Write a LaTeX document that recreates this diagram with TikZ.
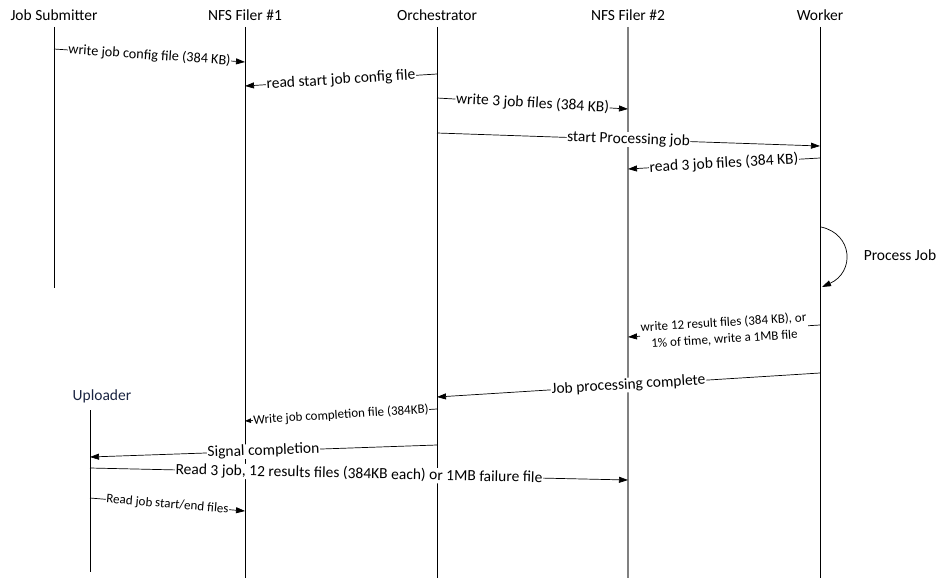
\documentclass[tikz,border=0pt]{standalone}
\usepackage{fontspec}
\setmainfont{Carlito}
\usetikzlibrary{arrows.meta}
\definecolor{navytext}{RGB}{25,35,65}
\begin{document}
\begin{tikzpicture}[x=1pt,y=-1pt,
  life/.style={line width=0.8pt,black},
  lifegray/.style={line width=1.5pt,black!50},
  title/.style={font=\fontsize{15.5}{18}\selectfont,inner sep=0pt},
  msg/.style={line width=0.7pt,-{Triangle[length=9pt,width=6pt]}},
  msgsmall/.style={line width=0.7pt,-{Triangle[length=6pt,width=4.5pt]}},
  lbl/.style={midway,sloped,fill=white,inner sep=0.6pt,font=\fontsize{15.5}{18}\selectfont},
  lblmid/.style={lbl,font=\fontsize{14.2}{17}\selectfont},
  lblsmall/.style={lbl,font=\fontsize{13}{16.5}\selectfont}]
\useasboundingbox (0,0) rectangle (947,578);

% titles
\node[title] (tjs) at (54,15) {Job Submitter};
\node[title] (tn1) at (245,15) {NFS Filer \#1};
\node[title] (tor) at (437,15) {Orchestrator};
\node[title] (tn2) at (628,15) {NFS Filer \#2};
\node[title] (twk) at (820,15) {Worker};
\node[title,text=navytext] (tup) at (102,396) {Uploader};
\node[title] (tpj) at (900,255) {Process Job};

% lifelines
\coordinate (js0) at (54,27);  \coordinate (js1) at (54,288);
\coordinate (n10) at (245,27); \coordinate (n11) at (245,578);
\coordinate (or0) at (437,27); \coordinate (or1) at (437,578);
\coordinate (n20) at (628,27); \coordinate (n21) at (628,578);
\coordinate (wk0) at (820,27); \coordinate (wk1) at (820,578);
\coordinate (up0) at (90,410); \coordinate (up1) at (90,572);
\draw[life] (js0) -- (js1);
\draw[life] (n10) -- (n11);
\draw[life] (or0) -- (or1);
\draw[lifegray] (n20) -- (n21);
\draw[life] (wk0) -- (wk1);
\draw[life] (up0) -- (up1);

% message end points
\coordinate (m1a) at (54,49);   \coordinate (m1b) at (245,62);
\coordinate (m2a) at (437,74);  \coordinate (m2b) at (245,86);
\coordinate (m3a) at (437,98);  \coordinate (m3b) at (628,109);
\coordinate (m4a) at (437,133); \coordinate (m4b) at (820,146);
\coordinate (m5a) at (820,158); \coordinate (m5b) at (628,169);
\coordinate (p1) at (821,227);  \coordinate (p2) at (822,287);
\coordinate (m7a) at (820,325); \coordinate (m7b) at (628,337);
\coordinate (m8a) at (820,373); \coordinate (m8b) at (437,397);
\coordinate (m9a) at (437,409); \coordinate (m9b) at (245,421);
\coordinate (m10a) at (437,445); \coordinate (m10b) at (90,457);
\coordinate (m11a) at (90,468); \coordinate (m11b) at (628,480);
\coordinate (m12a) at (90,498); \coordinate (m12b) at (245,511);

% messages
\draw[msg] (m1a) -- node[lblmid] {write job config file (384 KB)} (m1b);
\draw[msg] (m2a) -- node[lbl] {read start job config file} (m2b);
\draw[msg] (m3a) -- node[lbl] {write 3 job files (384 KB)} (m3b);
\draw[msg] (m4a) -- node[lbl] {start Processing job} (m4b);
\draw[msg] (m5a) -- node[lbl] {read 3 job files (384 KB)} (m5b);
\draw[msg] (p1) .. controls (853,234) and (855,272) .. (p2);
\draw[msg] (m7a) -- node[lblsmall,align=center,inner sep=1pt] {write 12 result files (384 KB), or\\1\% of time, write a 1MB file} (m7b);
\draw[msg] (m8a) -- node[lbl] {Job processing complete} (m8b);
\draw[msgsmall] (m9a) -- node[lblsmall] {Write job completion file (384KB)} (m9b);
\draw[msg] (m10a) -- node[lbl] {Signal completion} (m10b);
\draw[msg] (m11a) -- node[lbl] {Read 3 job, 12 results files (384KB each) or 1MB failure file} (m11b);
\draw[msg] (m12a) -- node[lblsmall] {Read job start/end files} (m12b);
\end{tikzpicture}
\end{document}
